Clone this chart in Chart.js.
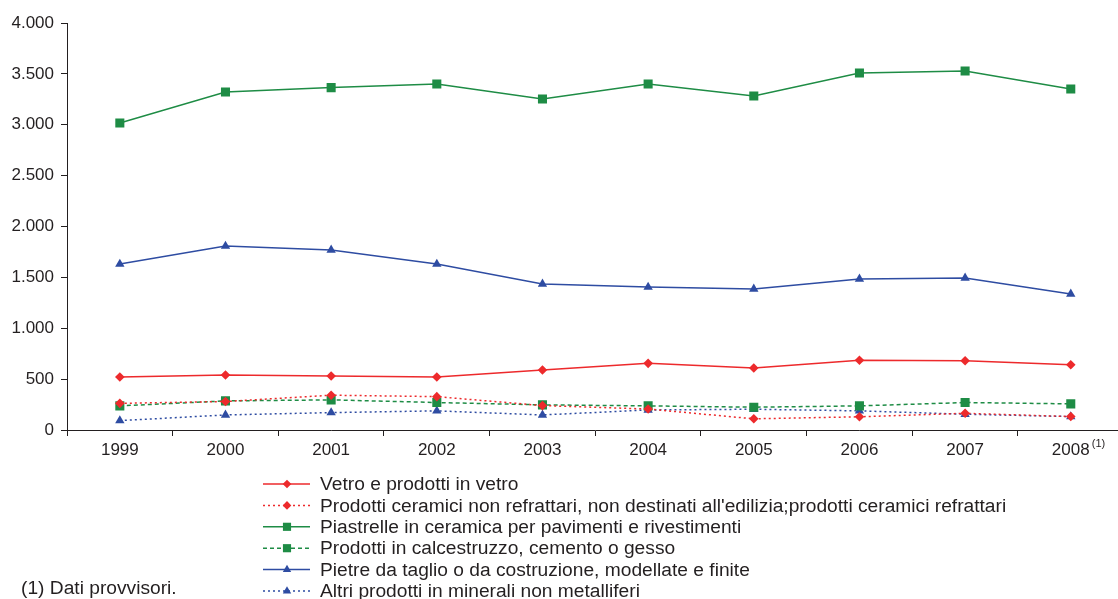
<!DOCTYPE html>
<html>
<head>
<meta charset="utf-8">
<script src="https://cdn.jsdelivr.net/npm/chart.js"></script>
<style>
  html, body { margin: 0; padding: 0; background: #fff; overflow: hidden; }
  #wrap { width: 1130px; height: 599px; }
</style>
</head>
<body>
<div id="wrap"><canvas id="chart" width="1130" height="599"></canvas></div>
<script>
// values
const years = ['1999', '2000', '2001', '2002', '2003', '2004', '2005', '2006', '2007', '2008'];
const vetro = [521, 541, 531, 521, 590, 655, 609, 686, 680, 642];
const ceramiciNonEdilizia = [262, 280, 342, 328, 240, 206, 110, 130, 164, 132];
const piastrelle = [3017, 3322, 3365, 3400, 3253, 3400, 3282, 3509, 3528, 3351];
const calcestruzzo = [237, 286, 296, 270, 247, 237, 224, 237, 270, 257];
const pietre = [1631, 1808, 1769, 1631, 1435, 1405, 1386, 1484, 1494, 1337];
const altri = [92, 148, 171, 188, 148, 197, 204, 188, 155, 132];
const yTicks = [0, 500, 1000, 1500, 2000, 2500, 3000, 3500, 4000];

const RED = '#ED2A2C';
const GREEN = '#1E8C45';
const BLUE = '#2E4CA2';
const TEXT = '#231f20';
const FONT = '"Liberation Sans", Arial, sans-serif';

function fmt(v) {
    return String(v).replace(/\B(?=(\d{3})+(?!\d))/g, '.');
}

function series(label, data, color, dash, style, radius) {
    return {
        label: label,
        data: data,
        borderColor: color,
        backgroundColor: color,
        borderWidth: 1.5,
        borderDash: dash,
        pointStyle: style,
        pointRadius: radius,
        pointBorderWidth: 0,
        pointBackgroundColor: color,
        tension: 0
    };
}

const datasets = [
    series('Vetro e prodotti in vetro', vetro, RED, [], 'rectRot', 4.8),
    series("Prodotti ceramici non refrattari, non destinati all'edilizia;prodotti ceramici refrattari", ceramiciNonEdilizia, RED, [2, 3], 'rectRot', 4.8),
    series('Piastrelle in ceramica per pavimenti e rivestimenti', piastrelle, GREEN, [], 'rect', 6.4),
    series('Prodotti in calcestruzzo, cemento o gesso', calcestruzzo, GREEN, [4, 3], 'rect', 6.4),
    series('Pietre da taglio o da costruzione, modellate e finite', pietre, BLUE, [], 'triangle', 5.4),
    series('Altri prodotti in minerali non metalliferi', altri, BLUE, [2, 3], 'triangle', 5.4)
];

// legend, footnote and the (1) mark next to 2008
const extras = {
    id: 'extras',
    afterDraw(chart) {
        const ctx = chart.ctx;
        ctx.save();
        ctx.font = '19.2px ' + FONT;
        ctx.textBaseline = 'middle';
        chart.data.datasets.forEach((ds, i) => {
            const y = 484 + i * 21.4;
            ctx.strokeStyle = ds.borderColor;
            ctx.lineWidth = 1.5;
            ctx.setLineDash(ds.borderDash);
            ctx.beginPath();
            ctx.moveTo(263, y);
            ctx.lineTo(310, y);
            ctx.stroke();
            ctx.setLineDash([]);
            ctx.fillStyle = ds.borderColor;
            Chart.helpers.drawPoint(ctx, { pointStyle: ds.pointStyle, radius: ds.pointRadius * 0.9, rotation: 0, borderWidth: 0 }, 287, y);
            ctx.fillStyle = TEXT;
            ctx.fillText(ds.label, 320, y + 1);
        });
        ctx.fillText('(1) Dati provvisori.', 21, 589);

        const xs = chart.scales.x;
        const x = xs.getPixelForValue(years.length - 1);
        ctx.font = '11px ' + FONT;
        ctx.fillText('(1)', x + 21, chart.chartArea.bottom + 14);
        ctx.restore();
    }
};

new Chart(document.getElementById('chart'), {
    type: 'line',
    data: { labels: years, datasets: datasets },
    options: {
        responsive: false,
        devicePixelRatio: 1,
        animation: false,
        layout: { padding: { top: 23, left: 0, right: 6, bottom: 139 } },
        plugins: {
            legend: { display: false },
            tooltip: { enabled: false }
        },
        scales: {
            x: {
                offset: true,
                grid: { offset: true, drawOnChartArea: false, tickLength: 6, color: TEXT },
                border: { color: TEXT, width: 1 },
                ticks: { color: TEXT, font: { family: FONT, size: 17 }, padding: 4, maxRotation: 0 },
                afterFit(s) { s.height = 30; }
            },
            y: {
                min: 0,
                max: 4000,
                afterBuildTicks(s) { s.ticks = yTicks.map(v => ({ value: v })); },
                grid: { drawOnChartArea: false, tickLength: 6, color: TEXT },
                border: { color: TEXT, width: 1 },
                ticks: { color: TEXT, font: { family: FONT, size: 17 }, padding: 7, callback: v => fmt(v) },
                afterFit(s) { s.width = 67; }
            }
        }
    },
    plugins: [extras]
});
</script>
</body>
</html>
